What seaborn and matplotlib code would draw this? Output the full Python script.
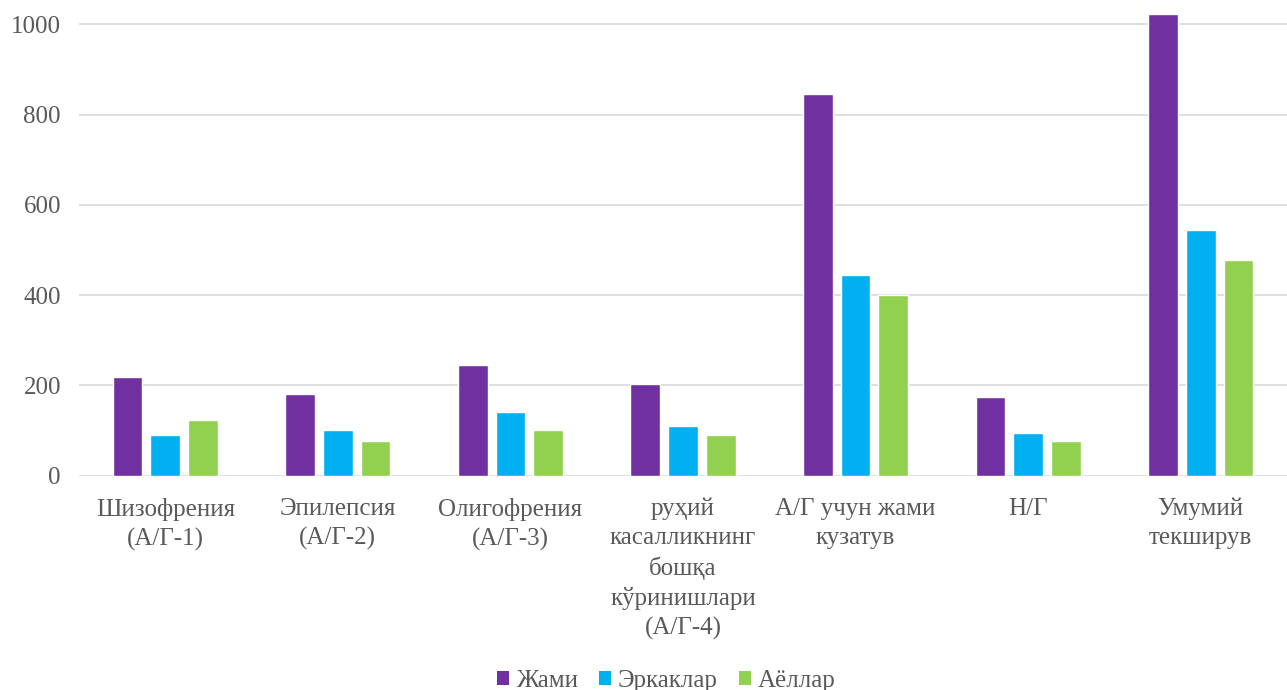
import matplotlib
matplotlib.use("Agg")
import matplotlib.pyplot as plt
import seaborn as sns
import pandas as pd
from matplotlib.patches import Patch

categories = [
    "Шизофрения\n(А/Г-1)",
    "Эпилепсия\n(А/Г-2)",
    "Олигофрения\n(А/Г-3)",
    "руҳий\nкасалликнинг\nбошқа\nкўринишлари\n(А/Г-4)",
    "А/Г учун жами\nкузатув",
    "Н/Г",
    "Умумий\nтекширув",
]
series_names = ["Жами", "Эркаклар", "Аёллар"]
jami = [218, 181, 245, 203, 846, 175, 1023]
erkaklar = [91, 101, 142, 110, 445, 95, 544]
ayollar = [124, 77, 101, 90, 400, 77, 479]
colors = ["#7030A0", "#00B0F0", "#92D050"]
yticks = [0, 200, 400, 600, 800, 1000]

rows = []
for name, vals in zip(series_names, [jami, erkaklar, ayollar]):
    for c, v in zip(categories, vals):
        rows.append({"cat": c, "series": name, "value": v})
df = pd.DataFrame(rows)

sns.set_theme(style="white")
plt.rcParams["font.family"] = ["Liberation Serif", "DejaVu Serif"]
text_color = "#595959"

fig = plt.figure(figsize=(12.87, 6.90), dpi=100)
ax = fig.add_axes([79 / 1287, 1 - 475.7 / 690, 1 - 79 / 1287, 475.7 / 690])

sns.barplot(data=df, x="cat", y="value", hue="series", palette=colors,
            width=0.655, gap=0.21, ax=ax, legend=False, saturation=1)

ax.set_ylim(0, 1054)
ax.set_xlim(-0.5, len(categories) - 0.5)
ax.set_yticks(yticks)
ax.set_yticklabels([str(t) for t in yticks], fontsize=18, color=text_color)
ax.set_xticks(range(len(categories)))
ax.set_xticklabels(categories, fontsize=18, color=text_color, linespacing=1.4, va="top")
ax.tick_params(axis="both", length=0)
ax.tick_params(axis="x", pad=16)
ax.tick_params(axis="y", pad=13)
ax.set_xlabel("")
ax.set_ylabel("")
for s in ax.spines.values():
    s.set_visible(False)
ax.yaxis.grid(True, color="#D9D9D9", linewidth=1.2)
ax.set_axisbelow(True)

handles = [Patch(facecolor=c, edgecolor="none") for c in colors]
leg = fig.legend(handles, series_names, loc="center", bbox_to_anchor=(666 / 1287, 1 - 681 / 690),
                 ncol=3, frameon=False, fontsize=18, handlelength=0.5, handleheight=0.5,
                 handletextpad=0.25, columnspacing=0.85)
for t in leg.get_texts():
    t.set_color(text_color)

fig.savefig("out.png", dpi=100)
